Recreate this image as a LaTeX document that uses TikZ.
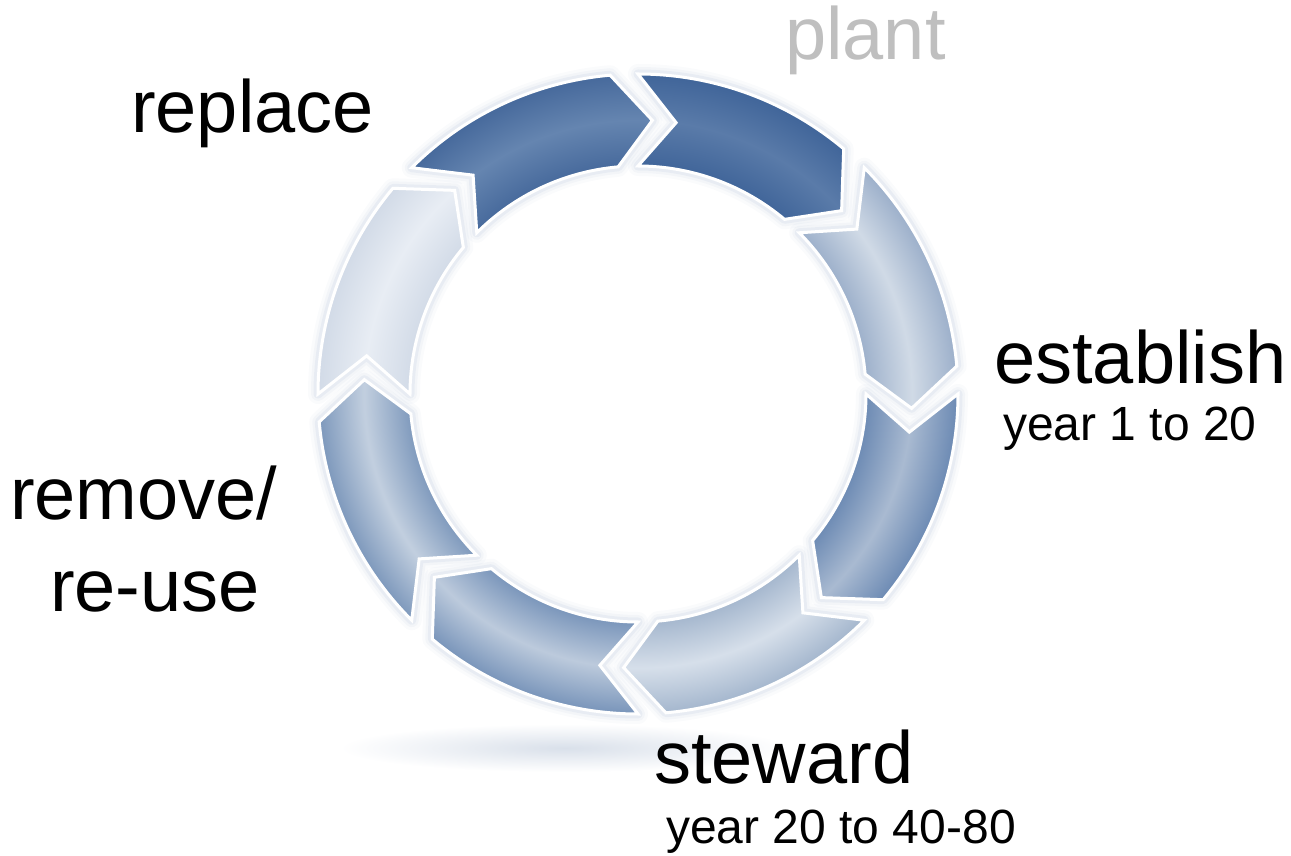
\documentclass[tikz,border=0pt]{standalone}
\usepackage{fontspec}
\setmainfont{Liberation Sans}
\definecolor{eA}{HTML}{44679A}\definecolor{mA}{HTML}{6585B0}
\definecolor{eB}{HTML}{3E6398}\definecolor{mB}{HTML}{5A7BA9}
\definecolor{eC}{HTML}{98ACC8}\definecolor{mC}{HTML}{D0DAE6}
\definecolor{eD}{HTML}{6786B1}\definecolor{mD}{HTML}{A9BAD1}
\definecolor{eE}{HTML}{A0B3CB}\definecolor{mE}{HTML}{D6DFEA}
\definecolor{eF}{HTML}{7390B7}\definecolor{mF}{HTML}{BCCADC}
\definecolor{eG}{HTML}{7894B9}\definecolor{mG}{HTML}{C2CFDF}
\definecolor{eH}{HTML}{D0D9E6}\definecolor{mH}{HTML}{E8EDF4}
\definecolor{glowc}{HTML}{9CAFCB}
\definecolor{shadowc}{HTML}{D9E0EA}
\definecolor{plantgray}{HTML}{BFBFBF}
\newcommand\ringshade[3]{\pgfdeclareradialshading{#1}{\pgfpoint{0bp}{0bp}}{color(0bp)=(#2);color(17.4bp)=(#2);color(21.4bp)=(#3);color(25.3bp)=(#2);color(50bp)=(#2)}}
\ringshade{shA}{eA}{mA}
\ringshade{shB}{eB}{mB}
\ringshade{shC}{eC}{mC}
\ringshade{shD}{eD}{mD}
\ringshade{shE}{eE}{mE}
\ringshade{shF}{eF}{mF}
\ringshade{shG}{eG}{mG}
\ringshade{shH}{eH}{mH}
\tikzset{
  arrowshape/.style={insert path={({#1-2.5}:320) arc[start angle={#1-2.5}, end angle={#1-42.5}, radius=320] -- ({#1-50.5}:274) -- ({#1-42.5}:228) arc[start angle={#1-42.5}, end angle={#1-2.5}, radius=228] -- ({#1-10.5}:274) -- cycle}},
  lbl/.style={inner sep=0pt, anchor=base west, font=\fontsize{74}{80}\selectfont},
  sublbl/.style={inner sep=0pt, anchor=base west, font=\fontsize{48}{52}\selectfont},
  glowline/.style={draw=glowc, line join=round, line width=#1},
  border/.style={draw=white, line width=3, line join=miter}
}
\newcommand\shadedarrow[2]{\begin{scope}\clip[arrowshape=#1];\shade[shading=#2] (0,0) circle[radius=320];\end{scope}}
\begin{document}
\begin{tikzpicture}[x=1pt,y=1pt]
\useasboundingbox (0,0) rectangle (1291,855);
\shade[inner color=shadowc, outer color=white] (565,107) ellipse[x radius=225, y radius=24];
\begin{scope}[shift={(638,461)}]
  \foreach \s in {137.5,92.5,47.5,2.5,-42.5,-87.5,-132.5,-177.5}{
    \path[glowline=20, draw opacity=0.05, arrowshape=\s];
    \path[glowline=14, draw opacity=0.08, arrowshape=\s];
    \path[glowline=9, draw opacity=0.12, arrowshape=\s];
  }
  \shadedarrow{137.5}{shA}
  \shadedarrow{92.5}{shB}
  \shadedarrow{47.5}{shC}
  \shadedarrow{2.5}{shD}
  \shadedarrow{-42.5}{shE}
  \shadedarrow{-87.5}{shF}
  \shadedarrow{-132.5}{shG}
  \shadedarrow{-177.5}{shH}
  \foreach \s in {137.5,92.5,47.5,2.5,-42.5,-87.5,-132.5,-177.5}{
    \path[border, arrowshape=\s];
  }
\end{scope}
\node[lbl, text=plantgray] (plant) at (785,795) {plant};
\node[lbl] (replace) at (131,722) {replace};
\node[lbl] (establish) at (994,471) {establish};
\node[sublbl] (estyear) at (1003,414) {year 1 to 20};
\node[lbl] (remove) at (10,335) {remove/};
\node[lbl] (reuse) at (50,243) {re-use};
\node[lbl] (steward) at (654,72) {steward};
\node[sublbl] (stewyear) at (666,12) {year 20 to 40-80};
\end{tikzpicture}
\end{document}
